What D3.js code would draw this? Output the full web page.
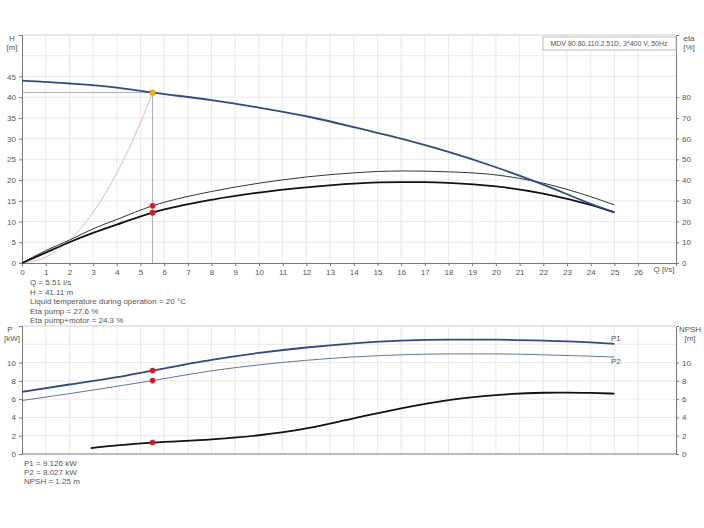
<!DOCTYPE html>
<html><head><meta charset="utf-8">
<script src="https://cdn.jsdelivr.net/npm/d3@7"></script>
<style>body{margin:0;background:#fff}text{font-family:"Liberation Sans",Arial,sans-serif;fill:#555}</style>
</head><body>
<script>
var w = 704, h = 528;
// data
var qTicks = d3.range(0, 27);
var hQ    = [0, 2, 4, 5.51, 8, 10, 12, 14, 16, 18, 20, 22, 24, 25];
var hVal  = [44, 43.3, 42.3, 41.11, 39.3, 37.5, 35.4, 32.8, 30.0, 26.8, 23.1, 18.9, 14.3, 12.2];
var etaQ  = [0, 1, 2, 3, 4, 5.51, 8, 10, 12, 14, 16, 17, 18, 20, 22, 24, 25];
var etaPump  = [0, 6, 11, 16.5, 21, 27.6, 34.5, 38.5, 41.5, 43.5, 44.4, 44.3, 44, 42.5, 38.5, 32, 28];
var etaTotal = [0, 5, 10, 14.5, 18.5, 24.3, 30.5, 34, 36.5, 38.3, 39, 39, 38.7, 37, 33.5, 28, 24.4];
var sysQ  = [0, 1, 2, 3, 4, 5, 5.51];
var sysH  = [0, 1.4, 5.5, 12.2, 21.7, 33.9, 41.11];
var pQ    = [0, 2, 4, 5.51, 8, 10, 12, 14, 16, 18, 20, 22, 24, 25];
var p1    = [6.8, 7.6, 8.4, 9.13, 10.3, 11.05, 11.65, 12.1, 12.4, 12.5, 12.5, 12.4, 12.2, 12.05];
var p2    = [5.85, 6.6, 7.4, 8.03, 9.1, 9.75, 10.25, 10.62, 10.85, 10.95, 10.95, 10.85, 10.7, 10.6];
var npshQ = [2.9, 4, 5.51, 8, 10, 12, 14, 16, 18, 20, 22, 23, 24, 25];
var npsh  = [0.65, 0.95, 1.25, 1.6, 2.05, 2.8, 3.9, 5.0, 5.9, 6.45, 6.7, 6.72, 6.68, 6.6];
var op = {q: 5.51, h: 41.11, etaP: 27.6, etaT: 24.3, p1: 9.126, p2: 8.027, npsh: 1.25};
var hTicks = [0, 5, 10, 15, 20, 25, 30, 35, 40, 45];
var etaTicks = [0, 10, 20, 30, 40, 50, 60, 70, 80];
var pTicks = [0, 2, 4, 6, 8, 10];
var infoTop = ["Q = 5.51 l/s", "H = 41.11 m", "Liquid temperature during operation = 20 °C", "Eta pump = 27.6 %", "Eta pump+motor = 24.3 %"];
var infoBot = ["P1 = 9.126 kW", "P2 = 8.027 kW", "NPSH = 1.25 m"];

var svg = d3.select("body").append("svg").attr("width", w).attr("height", h);
var grid = "#e3e3e3", axc = "#777";

var x = d3.scaleLinear().domain([0, 27.6]).range([22, 676]);
var yH = d3.scaleLinear().domain([0, 55]).range([263, 35]);
var yE = d3.scaleLinear().domain([0, 110]).range([263, 35]);
var yP = d3.scaleLinear().domain([0, 14]).range([454, 326]);

function panel(y, top, bottom, hLines) {
  svg.append("g").selectAll("line").data(qTicks.slice(1)).join("line")
    .attr("x1", d => x(d)).attr("x2", d => x(d)).attr("y1", top).attr("y2", bottom)
    .attr("stroke", grid).attr("stroke-width", 0.8);
  svg.append("g").selectAll("line").data(hLines).join("line")
    .attr("x1", 22).attr("x2", 676).attr("y1", d => y(d)).attr("y2", d => y(d))
    .attr("stroke", grid).attr("stroke-width", 0.8);
  svg.append("line").attr("x1", 22).attr("x2", 676).attr("y1", top).attr("y2", top).attr("stroke", "#ccc");
}
panel(yH, 35, 263, [5, 10, 15, 20, 25, 30, 35, 40, 45, 50]);
panel(yP, 326, 454, [2, 4, 6, 8, 10, 12]);

function yaxis(g, axis) {
  g.call(axis.tickSize(3).tickPadding(3));
  g.select(".domain").attr("stroke", axc);
  g.selectAll(".tick line").attr("stroke", axc);
  g.selectAll("text").style("font-size", "8px").style("fill", "#555");
}
yaxis(svg.append("g").attr("transform", "translate(22,0)"), d3.axisLeft(yH).tickValues(hTicks));
yaxis(svg.append("g").attr("transform", "translate(676,0)"), d3.axisRight(yE).tickValues(etaTicks));
yaxis(svg.append("g").attr("transform", "translate(0,263)"), d3.axisBottom(x).tickValues(qTicks));
yaxis(svg.append("g").attr("transform", "translate(22,0)"), d3.axisLeft(yP).tickValues(pTicks));
yaxis(svg.append("g").attr("transform", "translate(676,0)"), d3.axisRight(yP).tickValues(pTicks));
svg.append("line").attr("x1", 22).attr("x2", 676).attr("y1", 454).attr("y2", 454).attr("stroke", axc);

function lbl(t, px, py, anchor, fs) {
  svg.append("text").attr("x", px).attr("y", py).attr("text-anchor", anchor || "start")
    .style("font-size", (fs || 8) + "px").text(t);
}
lbl("H", 12, 41, "middle");
lbl("[m]", 12, 50, "middle");
lbl("eta", 689, 41, "middle"); lbl("[%]", 689, 50, "middle");
lbl("Q [l/s]", 664, 272, "middle");
lbl("P", 10, 332, "middle"); lbl("[kW]", 12, 341, "middle");
lbl("NPSH", 690, 332, "middle"); lbl("[m]", 690, 341, "middle");
lbl("P1", 611, 341); lbl("P2", 611, 364);
infoTop.forEach((t, i) => lbl(t, 30, 285 + i * 9.6));
infoBot.forEach((t, i) => lbl(t, 24, 466 + i * 9));

svg.append("rect").attr("x", 543).attr("y", 37).attr("width", 133).attr("height", 13)
  .attr("fill", "#fff").attr("stroke", "#bbb");
lbl("MDV 80.80.110.2.51D, 3*400 V, 50Hz", 609, 46, "middle", 7);

function curve(xs, ys, yS, col, sw) {
  svg.append("path").datum(xs.map((d, i) => [d, ys[i]]))
    .attr("d", d3.line().x(d => x(d[0])).y(d => yS(d[1])).curve(d3.curveMonotoneX))
    .attr("fill", "none").attr("stroke", col).attr("stroke-width", sw);
}
// operating lines
svg.append("line").attr("x1", 22).attr("x2", x(op.q)).attr("y1", yH(op.h)).attr("y2", yH(op.h)).attr("stroke", "#999").attr("stroke-width", 0.8);
svg.append("line").attr("x1", x(op.q)).attr("x2", x(op.q)).attr("y1", yH(op.h)).attr("y2", 263).attr("stroke", "#999").attr("stroke-width", 0.8);

curve(sysQ, sysH, yH, "#f4a0a0", 0.8);
curve(etaQ, etaPump, yE, "#333", 1);
curve(etaQ, etaTotal, yE, "#111", 1.8);
curve(hQ, hVal, yH, "#2b4c85", 1.8);
curve(pQ, p1, yP, "#2b4c85", 1.8);
curve(pQ, p2, yP, "#5b79a8", 1);
curve(npshQ, npsh, yP, "#111", 1.8);

function dot(cx, cy, col) {
  svg.append("circle").attr("cx", cx).attr("cy", cy).attr("r", 2.8).attr("fill", col)
    .attr("stroke", col == "#f5b21c" ? "#c98a00" : "none").attr("stroke-width", 0.6);
}
dot(x(op.q), yE(op.etaP), "#e8141b");
dot(x(op.q), yE(op.etaT), "#e8141b");
dot(x(op.q), yH(op.h), "#f5b21c");
dot(x(op.q), yP(op.p1), "#e8141b");
dot(x(op.q), yP(op.p2), "#e8141b");
dot(x(op.q), yP(op.npsh), "#e8141b");
</script>
</body></html>
